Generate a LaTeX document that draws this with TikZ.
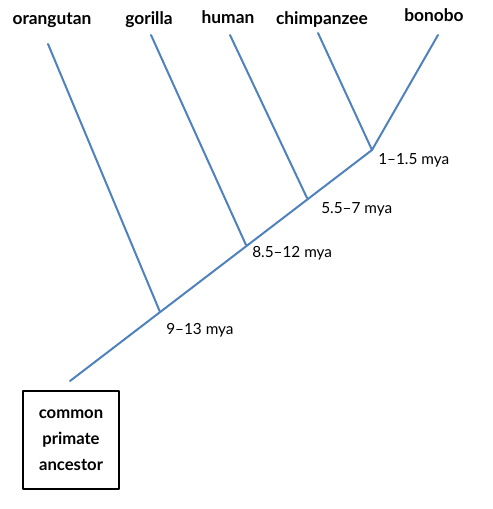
\documentclass[tikz,border=0pt]{standalone}
\usepackage{fontspec}
\setmainfont{Lato}
\usetikzlibrary{positioning}

\tikzset{
  branch/.style={draw=branchblue,line width=1.5pt},
  species/.style={font=\bfseries\fontsize{13}{15}\selectfont,anchor=base},
  age/.style={font=\fontsize{11.5}{13}\selectfont,anchor=west,inner sep=0pt},
  rootbox/.style={draw,line width=1.5pt,minimum width=72pt,minimum height=73.5pt,
    align=center,font=\bfseries\fontsize{12.5}{19.5}\selectfont}
}
\definecolor{branchblue}{RGB}{79,129,189}

\begin{document}
\begin{tikzpicture}[x=0.75pt,y=-0.75pt,line cap=round,line join=round]
\useasboundingbox (0,0) rectangle (492,509);

% junctions along the trunk
\coordinate (root) at (70,381);
\coordinate (jo) at (160,312);
\coordinate (jg) at (246,245);
\coordinate (jh) at (307,198);
\coordinate (jc) at (372,150);

% tips
\coordinate (to) at (48,44);
\coordinate (tg) at (151,35);
\coordinate (th) at (230,35);
\coordinate (tc) at (318,33);
\coordinate (tb) at (438,35);

\draw[branch] (root) -- (jc) -- (tb);
\draw[branch] (jo) -- (to);
\draw[branch] (jg) -- (tg);
\draw[branch] (jh) -- (th);
\draw[branch] (jc) -- (tc);

\node[species] (orangutan) at (52,25) {orangutan};
\node[species] (gorilla) at (149,25) {gorilla};
\node[species] (human) at (228,24) {human};
\node[species] (chimpanzee) at (322,25) {chimpanzee};
\node[species] (bonobo) at (434,22) {bonobo};

\node[age] (ac) at (378,160) {1–1.5 mya};
\node[age] (ah) at (321,209) {5.5–7 mya};
\node[age] (ag) at (252,253) {8.5–12 mya};
\node[age] (ao) at (166,330) {9–13 mya};

\node[rootbox] (ancestor) at (71,440) {common\\primate\\ancestor};
\end{tikzpicture}
\end{document}
